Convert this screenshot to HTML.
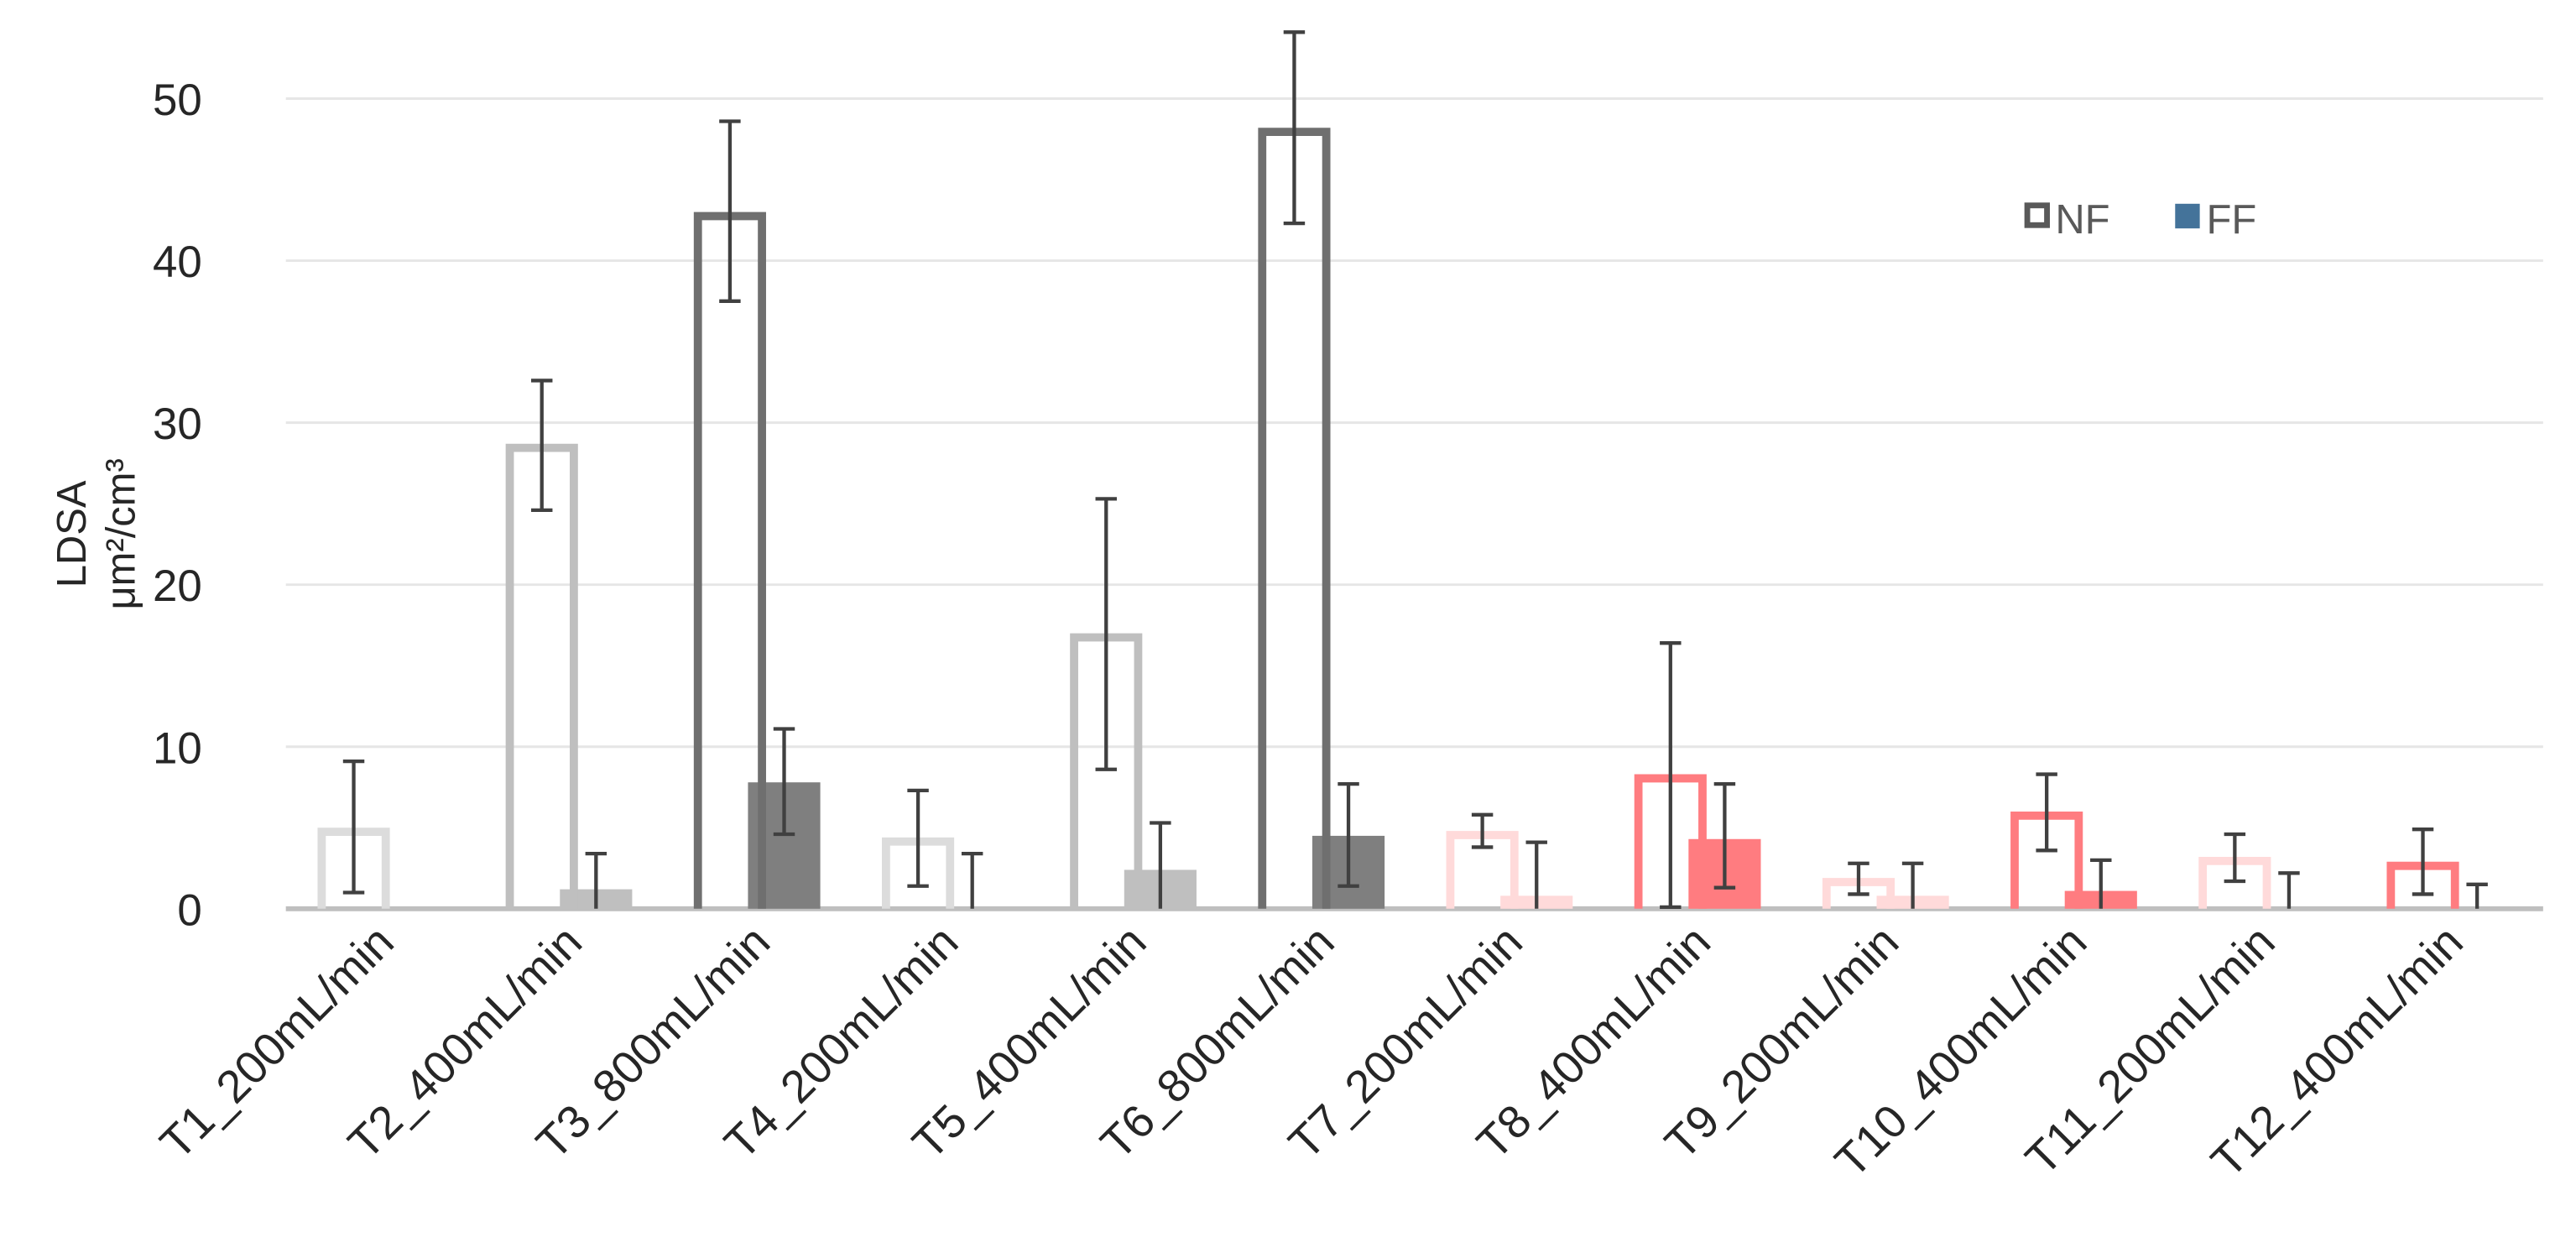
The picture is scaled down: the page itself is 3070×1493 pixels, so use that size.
<!DOCTYPE html>
<html><head><meta charset="utf-8"><style>
html,body{margin:0;padding:0;background:#fff}
svg{display:block}
text{font-family:"Liberation Sans","DejaVu Sans",sans-serif}
</style></head><body>
<svg id="chart" width="3070" height="1493" viewBox="0 0 1568 762.5" preserveAspectRatio="none" xmlns="http://www.w3.org/2000/svg">
<g id="grid"></g><g id="bars"></g><g id="errs"></g><g id="labels"></g>
<g>
<rect x="1234" y="125" width="12" height="12" fill="#fff" stroke="#595959" stroke-width="3.5"/>
<text x="1251" y="142" font-size="25" fill="#595959">NF</text>
<rect x="1324" y="124" width="15" height="15" fill="#44739a"/>
<text x="1343" y="142" font-size="25" fill="#595959">FF</text>
</g>
<g font-size="25" fill="#262626">
<text transform="translate(52,325) rotate(-90)" text-anchor="middle">LDSA</text>
<text transform="translate(82,325) rotate(-90)" text-anchor="middle">μm²/cm³</text>
</g>
</svg>
<script>
const categories=["T1_200mL/min","T2_400mL/min","T3_800mL/min","T4_200mL/min","T5_400mL/min","T6_800mL/min","T7_200mL/min","T8_400mL/min","T9_200mL/min","T10_400mL/min","T11_200mL/min","T12_400mL/min"];
const nfValues=[5.0,28.7,43.0,4.4,17.0,48.2,4.8,8.3,1.9,6.0,3.2,2.9];
const nfLow=[1.0,24.6,37.5,1.4,8.6,42.3,3.8,0.1,0.9,3.6,1.7,0.9];
const nfHigh=[9.1,32.6,48.6,7.3,25.3,54.1,5.8,16.4,2.8,8.3,4.6,4.9];
const ffValues=[0,1.2,7.8,0,2.4,4.5,0.8,4.3,0.8,1.1,0,0];
const ffLow=[0,0,4.6,0,0,1.4,0,1.3,0,0,0,0];
const ffHigh=[0,3.4,11.1,3.4,5.3,7.7,4.1,7.7,2.8,3.0,2.2,1.5];
const yTicks=[0,10,20,30,40,50];
const nfColors=["#dcdcdc","#bfbfbf","#6f6f6f","#dcdcdc","#bfbfbf","#6f6f6f","#ffdada","#ff7c80","#ffdada","#ff7c80","#ffdada","#ff7c80"];
const ffColors=["#dcdcdc","#bfbfbf","#7f7f7f","#dcdcdc","#bfbfbf","#7f7f7f","#ffdada","#ff7c80","#ffdada","#ff7c80","#ffdada","#ff7c80"];
const NS="http://www.w3.org/2000/svg";
const X0=174,X1=1548,Y0=553,PU=9.86;
const cw=(X1-X0)/categories.length;
function y(v){return Y0-v*PU;}
function xc(i){return X0+cw*i;}
function mk(tag,attrs,parent){const e=document.createElementNS(NS,tag);for(const k in attrs)e.setAttribute(k,attrs[k]);parent.appendChild(e);return e;}
const g=document.getElementById('grid'),b=document.getElementById('bars'),er=document.getElementById('errs'),lb=document.getElementById('labels');
yTicks.forEach(t=>{
 if(t>0){const l=mk('line',{x1:X0,x2:X1,y1:y(t),y2:y(t),stroke:'#e6e6e6','stroke-width':1.5},g);
 
 }
 const tx=mk('text',{x:123,y:y(t)+10,'text-anchor':'end','font-size':27,fill:'#262626'},lb);
 tx.textContent=t;
 
 
});
const bw=44;
function err(cx,lo,hi,name){
 if(hi<=lo)return;
 const ge=mk('g',{stroke:'#404040','stroke-width':2.2},er);
 
 
 mk('line',{x1:cx,x2:cx,y1:y(lo),y2:y(hi)},ge);
 mk('line',{x1:cx-6.5,x2:cx+6.5,y1:y(hi),y2:y(hi)},ge);
 if(lo>0)mk('line',{x1:cx-6.5,x2:cx+6.5,y1:y(lo),y2:y(lo)},ge);
}
categories.forEach((c,i)=>{
 const nc=xc(i)+41.3,fc=xc(i)+74.3;
 if(ffValues[i]>0){const r=mk('rect',{x:fc-bw/2,y:y(ffValues[i]),width:bw,height:ffValues[i]*PU,fill:ffColors[i]},b);
 
 }
 const p=mk('path',{d:`M${nc-bw/2+2.5},${Y0} V${y(nfValues[i])+2.5} H${nc+bw/2-2.5} V${Y0}`,fill:'none',stroke:nfColors[i],'stroke-width':5},b);
 
 
 err(nc,nfLow[i],nfHigh[i],'error-bar-nf-'+(i+1));
 err(fc,ffLow[i],ffHigh[i],'error-bar-ff-'+(i+1));
 const tx=mk('text',{'text-anchor':'end','font-size':28,fill:'#262626',transform:`translate(${xc(i)+cw/2+10},${Y0+22}) rotate(-45)`},lb);
 tx.textContent=c;
 
 
});
const ax=mk('line',{x1:X0,x2:X1,y1:Y0,y2:Y0,stroke:'#bfbfbf','stroke-width':3},g);


</script>
</body></html>
